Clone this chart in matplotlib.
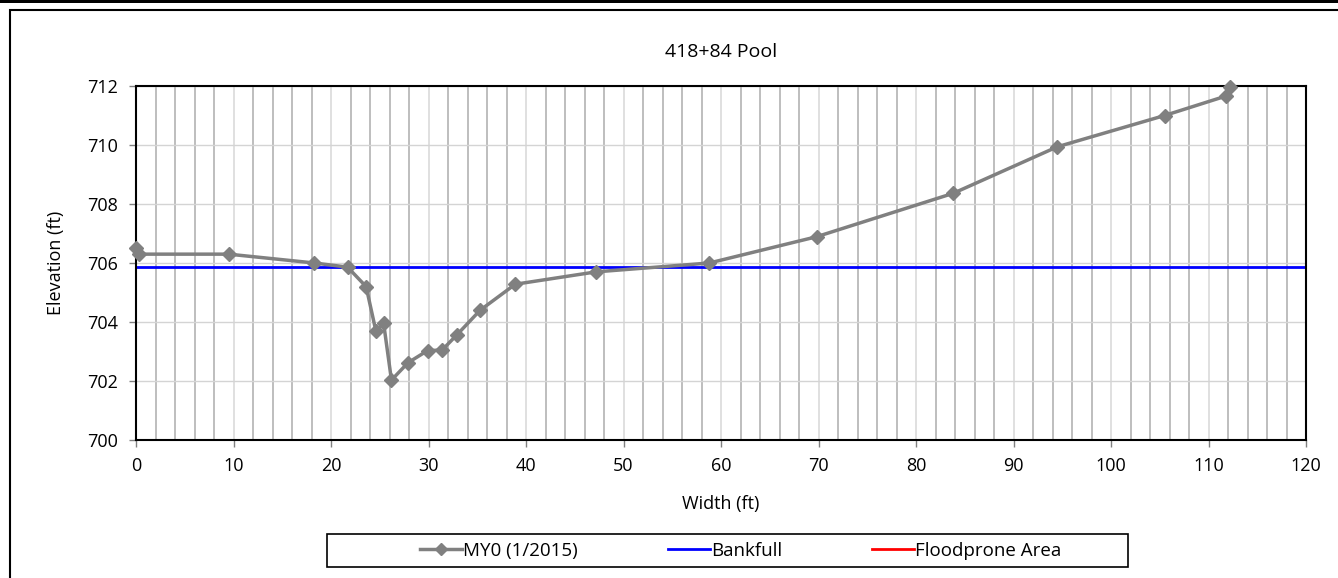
import matplotlib.pyplot as plt
from matplotlib.lines import Line2D
from matplotlib.patches import Rectangle

#------------------ data
width_ft = [0.0, 0.3, 9.5, 18.3, 21.7, 23.6, 24.6, 25.4, 26.2, 27.9, 29.9,
            31.4, 32.9, 35.3, 38.9, 47.2, 58.8, 69.8, 83.8, 94.5, 105.5,
            111.8, 112.2]
elev_ft = [706.52, 706.3, 706.3, 706.0, 705.86, 705.2, 703.7, 703.95, 702.03,
           702.62, 703.03, 703.05, 703.56, 704.4, 705.28, 705.7, 706.0, 706.89,
           708.36, 709.94, 711.0, 711.66, 711.96]
bankfull_x = [0, 120]
bankfull_elev = [705.88, 705.88]
floodprone_x = []
floodprone_elev = []

title = "418+84 Pool"
series_names = ["MY0 (1/2015)", "Bankfull", "Floodprone Area"]

plt.rcParams['font.family'] = ['Open Sans', 'DejaVu Sans']

fig = plt.figure(figsize=(13.38, 5.78), dpi=100)
ax = fig.add_axes([136 / 1338, 1 - 440 / 578, 1170 / 1338, 354 / 578])

# outer chart frame and top bar
fig.patches.append(Rectangle((10 / 1338, -0.1), 1.2, 1 - 10 / 578 + 0.1,
                             transform=fig.transFigure, fill=False,
                             edgecolor='black', linewidth=1.5))
fig.patches.append(Rectangle((0, 1 - 3 / 578), 1, 3 / 578,
                             transform=fig.transFigure, facecolor='black',
                             edgecolor='none'))
# legend box
fig.patches.append(Rectangle((327 / 1338, 1 - 567 / 578), 801 / 1338, 33 / 578,
                             transform=fig.transFigure, fill=False,
                             edgecolor='black', linewidth=1.2))

ax.set_xlim(0, 120)
ax.set_ylim(700, 712)
ax.set_xticks(range(0, 121, 10))
ax.set_xticks(range(0, 121, 2), minor=True)
ax.set_yticks(range(700, 713, 2))

ax.grid(True, which='minor', axis='x', color='#b3b3b3', linewidth=1.2)
ax.grid(True, which='major', axis='x', color='#dadada', linewidth=1.2)
ax.grid(True, which='major', axis='y', color='#d4d4d4', linewidth=1.0)
ax.set_axisbelow(True)

ax.plot(floodprone_x, floodprone_elev, color='red', linewidth=2,
        label=series_names[2])
ax.plot(bankfull_x, bankfull_elev, color='#0000ff', linewidth=2,
        label=series_names[1])
ax.plot(width_ft, elev_ft, color='#808080', linewidth=2.5, marker='D',
        markersize=7, label=series_names[0], clip_on=False, zorder=5)

for s in ax.spines.values():
    s.set_linewidth(1.5)
    s.set_color('black')

ax.tick_params(axis='both', which='major', direction='out', length=5,
               width=1, color='#808080', labelsize=13)
ax.tick_params(axis='x', which='major', pad=7)
ax.tick_params(axis='y', which='major', pad=8)
ax.tick_params(which='minor', length=0)

ax.set_title(title, fontsize=14, pad=21)
ax.set_xlabel("Width (ft)", fontsize=13, labelpad=15)
ax.set_ylabel("Elevation (ft)", fontsize=13, labelpad=16)

handles = [
    Line2D([], [], color='#808080', linewidth=2.5, marker='D', markersize=6),
    Line2D([], [], color='#0000ff', linewidth=2),
    Line2D([], [], color='red', linewidth=2),
]
leg = fig.legend(handles, series_names, loc='center left',
                 bbox_to_anchor=(420 / 1338, 1 - 551 / 578),
                 ncol=3, fontsize=13.5, frameon=False, handlelength=2.25,
                 handletextpad=0.05, columnspacing=4.8, borderpad=0,
                 borderaxespad=0)

fig.savefig("out.png", dpi=100)
